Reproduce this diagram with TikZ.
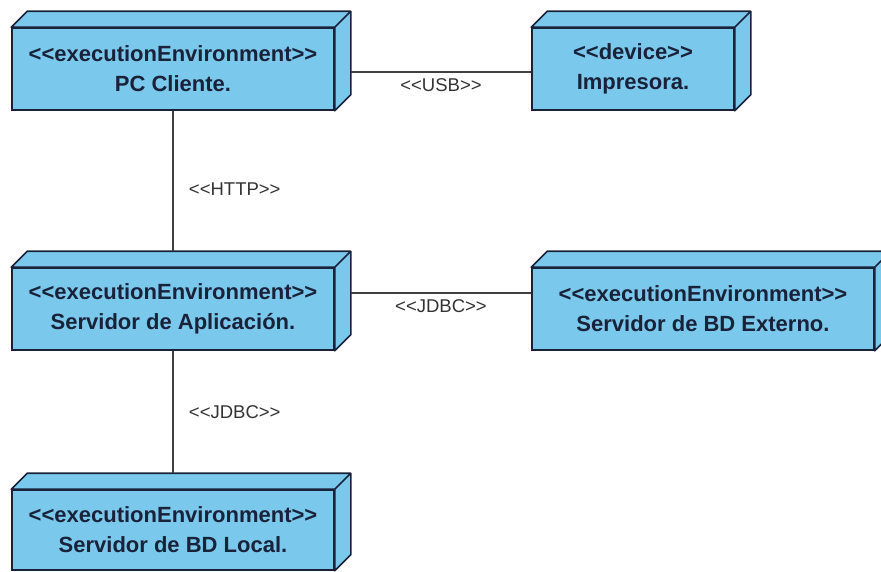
\documentclass[tikz,border=0pt]{standalone}
\usepackage{fontspec}
\setmainfont{Liberation Sans}
\usetikzlibrary{positioning}
\definecolor{nodefill}{RGB}{122,200,236}
\definecolor{nodeline}{RGB}{26,34,58}
\newcommand{\stereo}[1]{<\kern0pt<#1>\kern0pt>}

\begin{document}
\begin{tikzpicture}[x=1pt,y=-1pt
  ,box/.style={rectangle,draw=nodeline,line width=1.6pt,fill=nodefill
    ,minimum height=82pt,align=center,text=nodeline
    ,font=\fontsize{22}{30}\selectfont\bfseries}
  ,depth/.style={fill=nodefill,draw=nodeline,line width=1.6pt,line join=round}
  ,link/.style={draw=black!75,line width=1.3pt}
  ,lbl/.style={font=\fontsize{18.5}{22}\selectfont,text=black!80}]

  \useasboundingbox (0,0) rectangle (881,571);
  \clip (0,0) rectangle (881,571);

  \node[box,minimum width=322pt] (pc)  at (173,69)  {\stereo{executionEnvironment}\\PC Cliente.};
  \node[box,minimum width=202pt] (imp) at (633,69)  {\stereo{device}\\Impresora.};
  \node[box,minimum width=322pt] (app) at (173,309) {\stereo{executionEnvironment}\\Servidor de Aplicación.};
  \node[box,minimum width=342pt] (ext) at (703,309) {\stereo{executionEnvironment}\\Servidor de BD Externo.};
  \node[box,minimum width=322pt,minimum height=80pt] (loc) at (173,530) {\stereo{executionEnvironment}\\Servidor de BD Local.};

  \foreach \n in {pc,imp,app,ext,loc}
    \path[depth]
    (\n.north west) -- ++(16,-16) -- ([shift={(16,-16)}]\n.north east)
    -- ([shift={(16,-16)}]\n.south east) -- (\n.south east) -- (\n.north east) -- cycle
    (\n.north east) -- ++(16,-16);

  \draw[link] ([xshift=16pt,yshift=-3pt]pc.east) -- node[lbl,below=3pt] {\stereo{USB}} ([yshift=-3pt]imp.west);
  \draw[link] (pc.south) -- node[lbl,right=12pt,pos=0.56] {\stereo{HTTP}} ([yshift=16pt]app.north);
  \draw[link] ([xshift=16pt,yshift=16pt]app.east) -- node[lbl,below=3pt] {\stereo{JDBC}} ([yshift=16pt]ext.west);
  \draw[link] (app.south) -- node[lbl,right=12pt] {\stereo{JDBC}} ([yshift=16pt]loc.north);

\end{tikzpicture}
\end{document}
